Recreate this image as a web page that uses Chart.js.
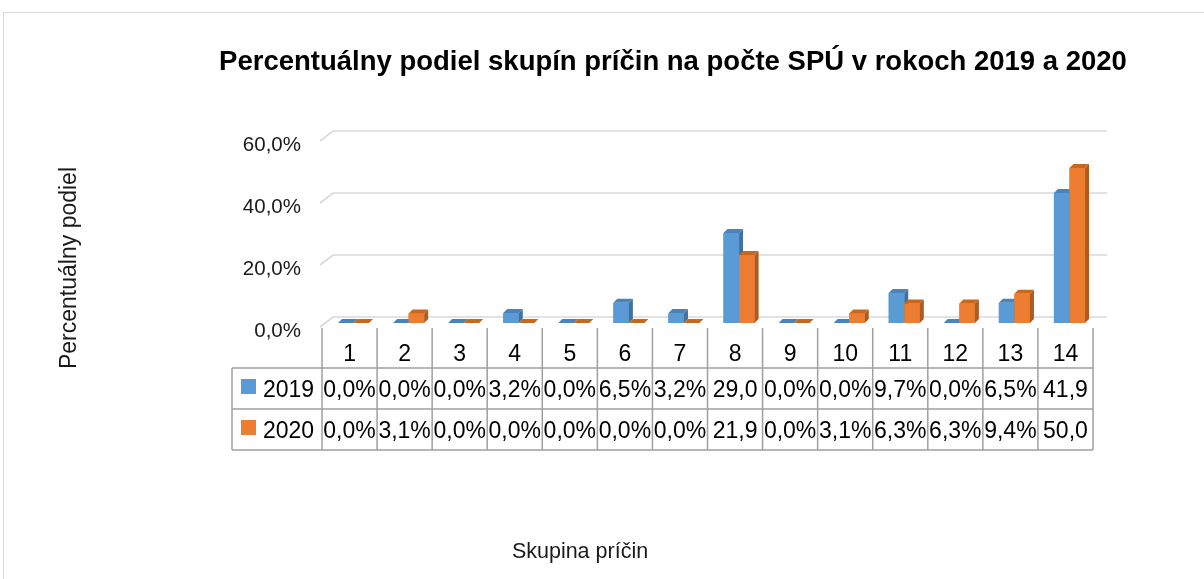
<!DOCTYPE html>
<html>
<head>
<meta charset="utf-8">
<script src="https://cdn.jsdelivr.net/npm/chart.js@4/dist/chart.umd.min.js"></script>
<style>
  body { margin: 0; background: #fff; }
  #wrap { width: 1204px; height: 579px; position: relative; }
</style>
</head>
<body>
<div id="wrap"><canvas id="chart" width="1204" height="579"></canvas></div>
<script>
// DATA
const categories = ["1", "2", "3", "4", "5", "6", "7", "8", "9", "10", "11", "12", "13", "14"];
const seriesNames = ["2019", "2020"];
const values2019 = [0.0, 0.0, 0.0, 3.2, 0.0, 6.5, 3.2, 29.0, 0.0, 0.0, 9.7, 0.0, 6.5, 41.9];
const values2020 = [0.0, 3.1, 0.0, 0.0, 0.0, 0.0, 0.0, 21.9, 0.0, 3.1, 6.3, 6.3, 9.4, 50.0];
const yTicks = [0, 20, 40, 60];

const chartTitle = "Percentuálny podiel skupín príčin na počte SPÚ v rokoch 2019 a 2020";
const xTitle = "Skupina príčin";
const yTitle = "Percentuálny podiel";

const FONT = "'Liberation Sans', Arial, sans-serif";
const colors = {
    front: ["#5b9bd5", "#ed7d31"],
    side: ["#41719c", "#ae5a21"],
    top: ["#4a84bd", "#c7681f"]
};
const DX = 4, DY = -4; // bar depth

const fmt = v => v.toFixed(1).replace(".", ",") + "%";

// draws back wall gridlines with the slanted floor edge
const gridPlugin = {
    id: "grid3d",
    beforeDatasetsDraw(chart) {
        const { ctx, scales: { y }, chartArea } = chart;
        ctx.save();
        ctx.strokeStyle = "#d9d9d9";
        ctx.lineWidth = 1.6;
        yTicks.forEach(t => {
            const yb = y.getPixelForValue(t);
            ctx.beginPath();
            ctx.moveTo(chartArea.left - 6, yb + 4);
            ctx.lineTo(chartArea.left + 7, yb - 6);
            ctx.lineTo(chartArea.right + 10, yb - 6);
            ctx.stroke();
        });
        ctx.restore();
    },
    afterDatasetsDraw(chart) {
        const { ctx } = chart;
        ctx.save();
        categories.forEach((c, i) => {
            chart.data.datasets.forEach((ds, d) => {
                const bar = chart.getDatasetMeta(d).data[i];
                const x0 = bar.x - bar.width / 2, x1 = bar.x + bar.width / 2;
                const top = bar.y, base = bar.base;
                // front
                ctx.fillStyle = colors.front[d];
                ctx.fillRect(x0, top, x1 - x0, base - top);
                // side
                ctx.fillStyle = colors.side[d];
                ctx.beginPath();
                ctx.moveTo(x1, base); ctx.lineTo(x1, top);
                ctx.lineTo(x1 + DX, top + DY); ctx.lineTo(x1 + DX, base + DY);
                ctx.closePath(); ctx.fill();
                // top
                ctx.fillStyle = colors.top[d];
                ctx.beginPath();
                ctx.moveTo(x0, top); ctx.lineTo(x1, top);
                ctx.lineTo(x1 + DX, top + DY); ctx.lineTo(x0 + DX, top + DY);
                ctx.closePath(); ctx.fill();
            });
        });
        ctx.restore();
    },
    afterDraw(chart) {
        const { ctx, scales: { x, y }, chartArea } = chart;
        ctx.save();

        // outer frame
        ctx.strokeStyle = "#d9d9d9";
        ctx.lineWidth = 1;
        ctx.strokeRect(3.5, 12.5, 1220, 600);

        // title
        ctx.fillStyle = "#000";
        ctx.font = "bold 27.5px " + FONT;
        ctx.textAlign = "center";
        ctx.textBaseline = "alphabetic";
        ctx.fillText(chartTitle, 673, 70);

        // y tick labels
        ctx.font = "20.5px " + FONT;
        ctx.textAlign = "right";
        ctx.fillStyle = "#1a1a1a";
        yTicks.forEach(t => ctx.fillText(fmt(t), 301, y.getPixelForValue(t) + 14));

        // axis titles
        ctx.font = "21.5px " + FONT;
        ctx.textAlign = "center";
        ctx.fillText(xTitle, 580, 558);
        ctx.save();
        ctx.translate(76, 268);
        ctx.rotate(-Math.PI / 2);
        ctx.font = "23px " + FONT;
        ctx.fillText(yTitle, 0, 0);
        ctx.restore();

        // data table
        const cellW = (chartArea.right - chartArea.left) / categories.length;
        const tLeft = chartArea.left - 4;
        const tRight = tLeft + cellW * categories.length;
        const legLeft = 232;
        const rowTop = 328, r1 = 368, r2 = 409, r3 = 450;

        ctx.strokeStyle = "#a0a0a0";
        ctx.lineWidth = 1.5;
        ctx.beginPath();
        for (let i = 0; i <= categories.length; i++) {
            const xx = tLeft + cellW * i;
            ctx.moveTo(xx, rowTop); ctx.lineTo(xx, r3);
        }
        [r1, r2, r3].forEach(ry => { ctx.moveTo(legLeft, ry); ctx.lineTo(tRight, ry); });
        ctx.moveTo(legLeft, r1); ctx.lineTo(legLeft, r3);
        ctx.stroke();

        ctx.font = "23px " + FONT;
        ctx.fillStyle = "#000";
        ctx.textAlign = "center";
        categories.forEach((c, i) => {
            const cx = tLeft + cellW * (i + 0.5);
            ctx.fillText(c, cx, 361);
            [values2019, values2020].forEach((vals, d) => {
                let s = fmt(vals[i]);
                while (ctx.measureText(s).width > cellW - 1 && s.length > 1) s = s.slice(0, -1);
                ctx.fillText(s, cx, d === 0 ? 397 : 438);
            });
        });

        // legend keys
        ctx.textAlign = "left";
        seriesNames.forEach((n, d) => {
            const ry = d === 0 ? r1 : r2;
            ctx.fillStyle = colors.front[d];
            ctx.fillRect(241, ry + 11, 15, 15);
            ctx.fillStyle = "#000";
            ctx.fillText(n, 263, ry + 29);
        });
        ctx.restore();
    }
};

new Chart(document.getElementById("chart"), {
    type: "bar",
    data: {
        labels: categories,
        datasets: [
            { label: seriesNames[0], data: values2019, backgroundColor: colors.front[0] },
            { label: seriesNames[1], data: values2020, backgroundColor: colors.front[1] }
        ]
    },
    options: {
        responsive: false,
        animation: false,
        layout: { padding: { left: 326, right: 107, top: 137, bottom: 256 } },
        datasets: { bar: { categoryPercentage: 0.565, barPercentage: 1 } },
        scales: {
            x: { display: false },
            y: { display: false, min: 0, max: 60 }
        },
        plugins: { legend: { display: false }, tooltip: { enabled: false } }
    },
    plugins: [gridPlugin]
});
</script>
</body>
</html>
